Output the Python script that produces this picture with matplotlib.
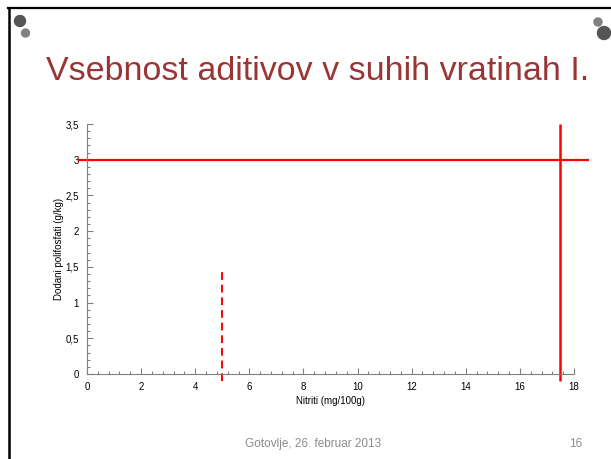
import matplotlib
matplotlib.use("Agg")
import matplotlib.pyplot as plt
from matplotlib.ticker import MultipleLocator, FuncFormatter
from matplotlib.patches import Circle
from matplotlib.lines import Line2D

plt.rcParams['font.family'] = ['Liberation Sans', 'DejaVu Sans']

title = "Vsebnost aditivov v suhih vratinah I."
footer = "Gotovlje, 26. februar 2013"
page = "16"
xlabel = "Nitriti (mg/100g)"
ylabel = "Dodani polifosfati (g/kg)"

# limit lines
h_line_y = 3.0
h_line_x = [-0.35, 18.55]
v_line_x = 17.5
v_line_y = [-0.1, 3.5]
dash_line_x = 5.0
dash_line_y = [-0.1, 1.45]

W, H = 611, 459
fig = plt.figure(figsize=(W / 100, H / 100), dpi=100)

# slide decoration overlay
bg = fig.add_axes([0, 0, 1, 1], zorder=0)
bg.set_xlim(0, W)
bg.set_ylim(H, 0)
bg.axis('off')
bg.add_line(Line2D([8, W], [8, 8], color='black', lw=1.6))
bg.add_line(Line2D([9, 9], [8, H], color='black', lw=1.8))
bg.add_patch(Circle((20, 21), 5.5, color='#555555'))
bg.add_patch(Circle((25.5, 33), 4.0, color='#808080'))
bg.add_patch(Circle((598, 22), 4.0, color='#808080'))
bg.add_patch(Circle((604, 33), 6.5, color='#555555'))
bg.text(46, 80, title, fontsize=24.5, color='#993535', ha='left', va='baseline')
bg.text(313, 447, footer, fontsize=8.5, color='#8c8c8c', ha='center', va='baseline')
bg.text(582, 447, page, fontsize=8.5, color='#8c8c8c', ha='right', va='baseline')

ax = fig.add_axes([87 / W, 85 / H, 487 / W, 250 / H], zorder=1)
ax.patch.set_alpha(0)
ax.set_xlim(0, 18)
ax.set_ylim(0, 3.5)
for s in ['top', 'right']:
    ax.spines[s].set_visible(False)
for s in ['left', 'bottom']:
    ax.spines[s].set_color('#808080')
    ax.spines[s].set_linewidth(0.8)

ax.xaxis.set_major_locator(MultipleLocator(2))
ax.xaxis.set_minor_locator(MultipleLocator(0.4))
ax.yaxis.set_major_locator(MultipleLocator(0.5))
ax.yaxis.set_minor_locator(MultipleLocator(0.1))
fmt = FuncFormatter(lambda v, p: ('%g' % v).replace('.', ','))
ax.xaxis.set_major_formatter(fmt)
ax.yaxis.set_major_formatter(fmt)
ax.tick_params(which='both', direction='in', color='#808080', labelsize=7, width=0.8)
ax.tick_params(which='major', length=4)
ax.tick_params(which='minor', length=2.5)
ax.tick_params(axis='x', pad=6)
ax.tick_params(axis='y', pad=6)

ax.set_xlabel(xlabel, fontsize=7, labelpad=3)
ax.set_ylabel(ylabel, fontsize=7, labelpad=1)

ax.plot(h_line_x, [h_line_y, h_line_y], color='red', lw=1.6, clip_on=False, solid_capstyle='butt')
ax.plot([v_line_x, v_line_x], v_line_y, color='red', lw=1.8, clip_on=False, solid_capstyle='butt')
ax.plot([dash_line_x, dash_line_x], dash_line_y, color='red', lw=1.4, ls=(0, (4, 2.5)), clip_on=False)

fig.savefig('out.png', dpi=100)
